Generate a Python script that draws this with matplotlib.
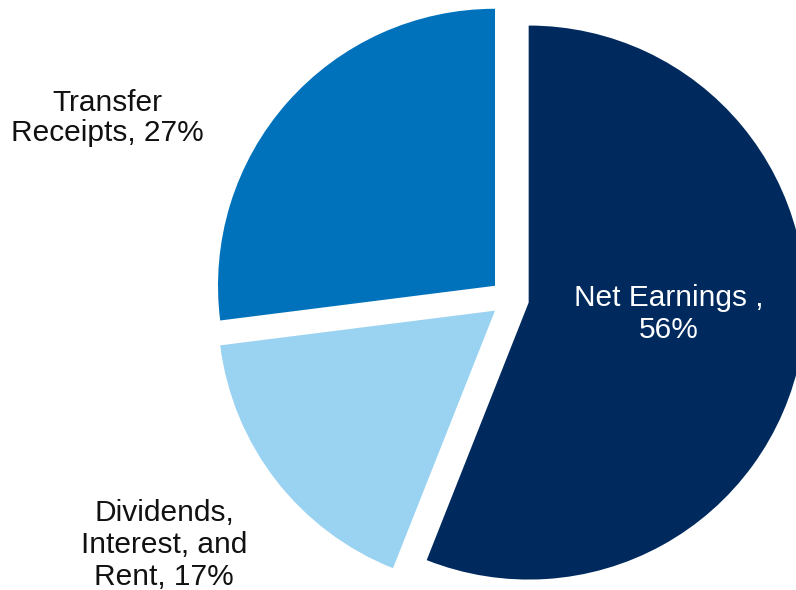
import matplotlib
matplotlib.use("Agg")
import matplotlib.pyplot as plt

# data
categories = ["Net Earnings", "Dividends, Interest, and Rent", "Transfer Receipts"]
shares = [56, 17, 27]
colors = ["#002A5E", "#9AD2F1", "#0072BC"]
explode = [19, 19, 20]

plt.rcParams["font.family"] = ["Liberation Sans", "DejaVu Sans"]

W, H = 796, 590
fig = plt.figure(figsize=(W / 100, H / 100), dpi=100)
ax = fig.add_axes([0, 0, 1, 1])

ax.pie(shares, colors=colors, explode=explode, startangle=90,
       counterclock=False, radius=277, center=(510, H - 299),
       wedgeprops=dict(linewidth=0))

ax.set_xlim(0, W)
ax.set_ylim(0, H)
ax.set_aspect("auto")
ax.axis("off")

# labels (image y measured from top)
ax.text(107, H - 118, "Transfer\nReceipts, 27%", ha="center", va="center",
        fontsize=21.5, color="#111111", linespacing=1.1)
ax.text(164, H - 545, "Dividends,\nInterest, and\nRent, 17%", ha="center",
        va="center", fontsize=21.5, color="#111111", linespacing=1.17)
ax.text(669, H - 314, "Net Earnings ,\n56%", ha="center", va="center",
        fontsize=21.5, color="white", linespacing=1.22)

fig.savefig("out.png", dpi=100, facecolor="white")
